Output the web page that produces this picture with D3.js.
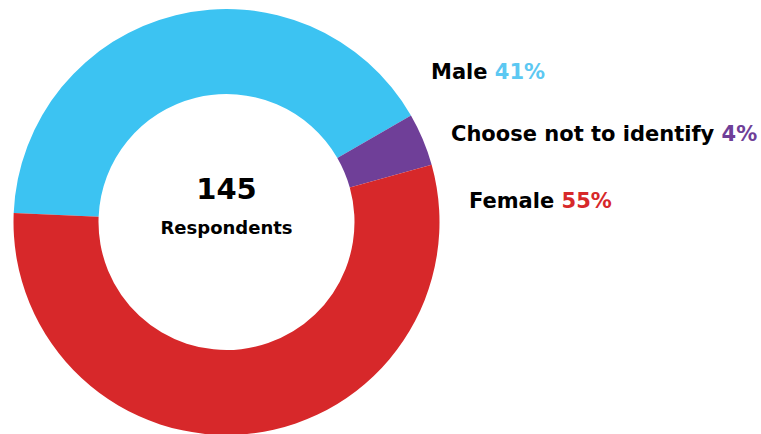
<!DOCTYPE html>
<html lang="en">
<head>
  <meta charset="UTF-8">
  <title>respondents donut</title>
  <script src="https://cdn.jsdelivr.net/npm/d3@7"></script>
  <style>
    html, body { margin: 0; padding: 0; background: #fff; }
    text { font-family: "DejaVu Sans", sans-serif; font-weight: 700; }
  </style>
</head>
<body>
  <svg id="chart"></svg>
<script>
  const categories = ['Male', 'Choose not to identify', 'Female'];
  const shares = [41, 4, 55];
  const colors = ['#3cc3f2', '#6f3f98', '#d7282a'];
  const labelColors = ['#5cc8f2', '#6f3f98', '#d7282a'];
  const totalRespondents = 145;
  const centerCaption = 'Respondents';

  const width = 761, height = 434;
  const cx = 226.5, cy = 222;
  const outerR = 213, innerR = 128;

  const svg = d3.select('#chart')
    .attr('width', width)
    .attr('height', height);

  const data = categories.map((name, i) => ({ name, value: shares[i], color: colors[i], labelColor: labelColors[i] }));

  // Male starts just left of 9 o'clock and runs clockwise
  const start = -87.6 * Math.PI / 180;
  const pie = d3.pie()
    .sort(null)
    .value(d => d.value)
    .startAngle(start)
    .endAngle(start + 2 * Math.PI);

  const arc = d3.arc()
    .innerRadius(innerR)
    .outerRadius(outerR);

  const g = svg.append('g')
    .attr('transform', `translate(${cx},${cy})`);

  g.selectAll('path')
    .data(pie(data))
    .join('path')
    .attr('d', arc)
    .attr('fill', d => d.data.color);

  g.append('text')
    .attr('text-anchor', 'middle')
    .attr('y', -23)
    .attr('font-size', 29)
    .attr('fill', '#000')
    .text(totalRespondents);

  g.append('text')
    .attr('text-anchor', 'middle')
    .attr('y', 12)
    .attr('font-size', 18)
    .attr('fill', '#000')
    .text(centerCaption);

  // legend labels sit beside the right edge of the ring
  const labelPos = [[431, 79], [451, 141], [469, 208]];

  const labels = svg.append('g')
    .selectAll('text')
    .data(data)
    .join('text')
    .attr('x', (d, i) => labelPos[i][0])
    .attr('y', (d, i) => labelPos[i][1])
    .attr('font-size', 21)
    .attr('fill', '#000');

  labels.append('tspan').text(d => d.name + ' ');
  labels.append('tspan')
    .attr('fill', d => d.labelColor)
    .text(d => d.value + '%');
</script>
</body>
</html>
